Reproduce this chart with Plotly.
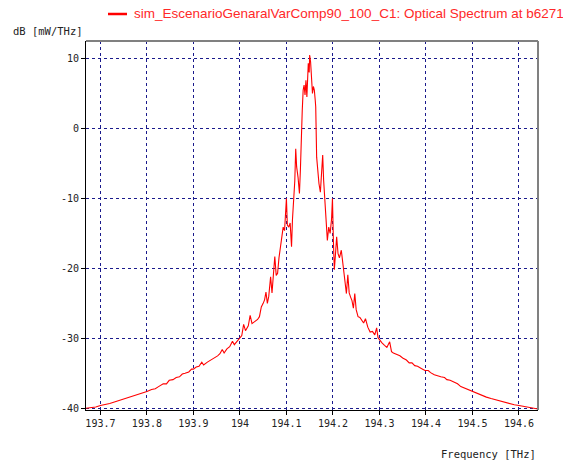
import plotly.graph_objects as go

freq_thz = [
    193.669, 193.680, 193.690, 193.700, 193.710, 193.720, 193.730, 193.740, 193.750, 193.760,
    193.770, 193.780, 193.790, 193.800, 193.810, 193.818, 193.825, 193.835, 193.842, 193.848,
    193.856, 193.863, 193.870, 193.876, 193.882, 193.890, 193.896, 193.900, 193.906, 193.912,
    193.918, 193.922, 193.930, 193.938, 193.945, 193.952, 193.957, 193.962, 193.966, 193.972,
    193.978, 193.984, 193.988, 193.994, 194.000, 194.004, 194.008, 194.012, 194.018, 194.022,
    194.026, 194.032, 194.038, 194.042, 194.046, 194.050, 194.053, 194.056, 194.059, 194.062,
    194.066, 194.069, 194.072, 194.075, 194.078, 194.081, 194.084, 194.087, 194.090, 194.093,
    194.096, 194.099, 194.100, 194.102, 194.105, 194.108, 194.111, 194.113, 194.116, 194.118,
    194.120, 194.122, 194.125, 194.128, 194.130, 194.132, 194.134, 194.136, 194.138, 194.140,
    194.142, 194.144, 194.146, 194.147, 194.149, 194.150, 194.152, 194.154, 194.156, 194.158,
    194.160, 194.162, 194.163, 194.165, 194.168, 194.170, 194.173, 194.176, 194.178, 194.180,
    194.183, 194.185, 194.188, 194.191, 194.194, 194.197, 194.199, 194.201, 194.203, 194.206,
    194.208, 194.211, 194.214, 194.218, 194.221, 194.223, 194.226, 194.229, 194.232, 194.235,
    194.238, 194.241, 194.244, 194.247, 194.250, 194.254, 194.258, 194.262, 194.266, 194.270,
    194.275, 194.280, 194.285, 194.290, 194.294, 194.297, 194.300, 194.305, 194.311, 194.316,
    194.322, 194.326, 194.330, 194.337, 194.344, 194.350, 194.358, 194.364, 194.370, 194.376,
    194.382, 194.390, 194.398, 194.405, 194.410, 194.418, 194.425, 194.432, 194.440, 194.445,
    194.452, 194.460, 194.468, 194.475, 194.482, 194.490, 194.500, 194.510, 194.520, 194.530,
    194.540, 194.550, 194.560, 194.570, 194.580, 194.590, 194.600, 194.610, 194.620, 194.630,
    194.641,
]

power_db = [
    -40.0, -39.9, -39.8, -39.6, -39.5, -39.3, -39.1, -38.9, -38.7, -38.5,
    -38.3, -38.1, -37.8, -37.6, -37.3, -37.2, -36.9, -36.5, -36.5, -36.0,
    -35.9, -35.6, -35.5, -35.1, -35.0, -34.8, -34.4, -34.4, -34.1, -34.0,
    -33.4, -33.8, -33.4, -33.1, -32.8, -32.5, -32.2, -31.6, -32.1, -31.5,
    -31.2, -30.4, -30.9, -30.4, -29.8, -29.6, -28.0, -28.9, -28.2, -26.7,
    -27.9, -27.6, -27.3, -26.9, -25.5, -25.0, -24.5, -23.4, -25.0, -24.0,
    -21.2, -23.5, -20.8, -18.3, -21.0, -20.7, -18.5, -17.0, -15.5, -14.1,
    -14.6, -12.0, -10.0, -13.8, -14.1, -13.5, -16.9, -13.0, -10.2, -7.5,
    -2.9, -5.5, -7.0, -9.3, -6.0, -0.7, 2.5, 5.5, 6.2, 4.8,
    6.9, 4.5, 7.5, 9.3, 8.0, 10.5, 9.5, 6.9, 5.0, 6.0,
    5.5, 4.0, 3.1, -4.1, -6.5, -7.9, -9.1, -5.5, -3.8, -7.4,
    -11.0, -14.1, -16.0, -14.1, -15.0, -13.0, -10.0, -16.0, -20.2, -17.5,
    -15.5, -17.9, -18.5, -17.4, -19.0, -20.7, -22.0, -23.6, -20.9, -23.5,
    -24.1, -24.6, -25.7, -23.6, -25.9, -26.9, -27.0, -27.4, -27.8, -27.2,
    -28.4, -29.1, -29.0, -29.5, -28.5, -29.9, -30.2, -30.6, -31.0, -31.3,
    -30.5, -31.9, -32.1, -32.3, -32.5, -32.8, -33.1, -33.5, -33.5, -33.9,
    -34.0, -34.3, -34.6, -34.6, -34.9, -35.2, -35.4, -35.5, -35.6, -35.9,
    -36.0, -36.3, -36.5, -36.9, -37.1, -37.3, -37.6, -37.9, -38.2, -38.4,
    -38.6, -38.8, -39.0, -39.2, -39.4, -39.5, -39.6, -39.7, -39.9, -40.0,
    -40.1,
]

x_tick_vals = [193.7, 193.8, 193.9, 194.0, 194.1, 194.2, 194.3, 194.4, 194.5, 194.6]
x_tick_text = ["193.7", "193.8", "193.9", "194", "194.1", "194.2", "194.3", "194.4", "194.5", "194.6"]
y_tick_vals = [10, 0, -10, -20, -30, -40]
y_tick_text = ["10", "0", "-10", "-20", "-30", "-40"]

legend_label = "sim_EscenarioGenaralVarComp90_100_C1: Optical Spectrum at b6271"
y_title = "dB [mW/THz]"
x_title = "Frequency [THz]"

mono = "DejaVu Sans Mono"
grid_col = "#1a1a8c"
txt_col = "#222222"

W, H = 563, 461
ML, MR, MT, MB = 86, 25, 41, 51
PW, PH = W - ML - MR, H - MT - MB


def px(x):
    return (x - ML) / PW


def py(y):
    return (H - MB - y) / PH


fig = go.Figure()
fig.add_trace(go.Scatter(
    x=freq_thz, y=power_db, mode="lines",
    line=dict(color="#ff0000", width=1.1),
    showlegend=False, hoverinfo="skip",
))

fig.update_layout(
    width=W, height=H,
    margin=dict(l=ML, r=MR, t=MT, b=MB),
    paper_bgcolor="white", plot_bgcolor="white",
    showlegend=False,
)
fig.update_xaxes(
    range=[193.669, 194.641], tickvals=x_tick_vals, ticktext=x_tick_text,
    showgrid=True, gridcolor=grid_col, griddash="3px,3px", gridwidth=1,
    showline=True, linecolor="black", linewidth=1,
    ticks="outside", ticklen=4, tickcolor="black",
    tickfont=dict(family=mono, size=10, color=txt_col),
    zeroline=False,
)
fig.update_yaxes(
    range=[-40.24, 12.5], tickvals=y_tick_vals, ticktext=y_tick_text,
    showgrid=True, gridcolor=grid_col, griddash="3px,3px", gridwidth=1,
    showline=True, linecolor="black", linewidth=1,
    ticks="outside", ticklen=4, tickcolor="black",
    tickfont=dict(family=mono, size=10, color=txt_col),
    zeroline=False,
)

# top and right frame (gray)
fig.add_shape(type="line", xref="paper", yref="paper", x0=0, x1=1, y0=1, y1=1,
              line=dict(color="#808080", width=2))
fig.add_shape(type="line", xref="paper", yref="paper", x0=1, x1=1, y0=0, y1=1,
              line=dict(color="#808080", width=2))

# legend key
fig.add_shape(type="line", xref="paper", yref="paper",
              x0=px(108), x1=px(127), y0=py(14), y1=py(14),
              line=dict(color="#ff0000", width=2.5))
fig.add_annotation(text=legend_label, xref="paper", yref="paper",
                   x=px(132), y=py(14),
                   xanchor="left", yanchor="middle", showarrow=False,
                   font=dict(family="Liberation Sans", size=13.5, color="#ff2828"))
fig.add_annotation(text=y_title, xref="paper", yref="paper",
                   x=px(11), y=py(31),
                   xanchor="left", yanchor="middle", showarrow=False,
                   font=dict(family=mono, size=10.5, color=txt_col))
fig.add_annotation(text=x_title, xref="paper", yref="paper",
                   x=px(538), y=py(454),
                   xanchor="right", yanchor="middle", showarrow=False,
                   font=dict(family=mono, size=10.5, color=txt_col))

fig.write_html("out.html", config={"displayModeBar": False},
               post_script="document.body.style.margin='0';")
